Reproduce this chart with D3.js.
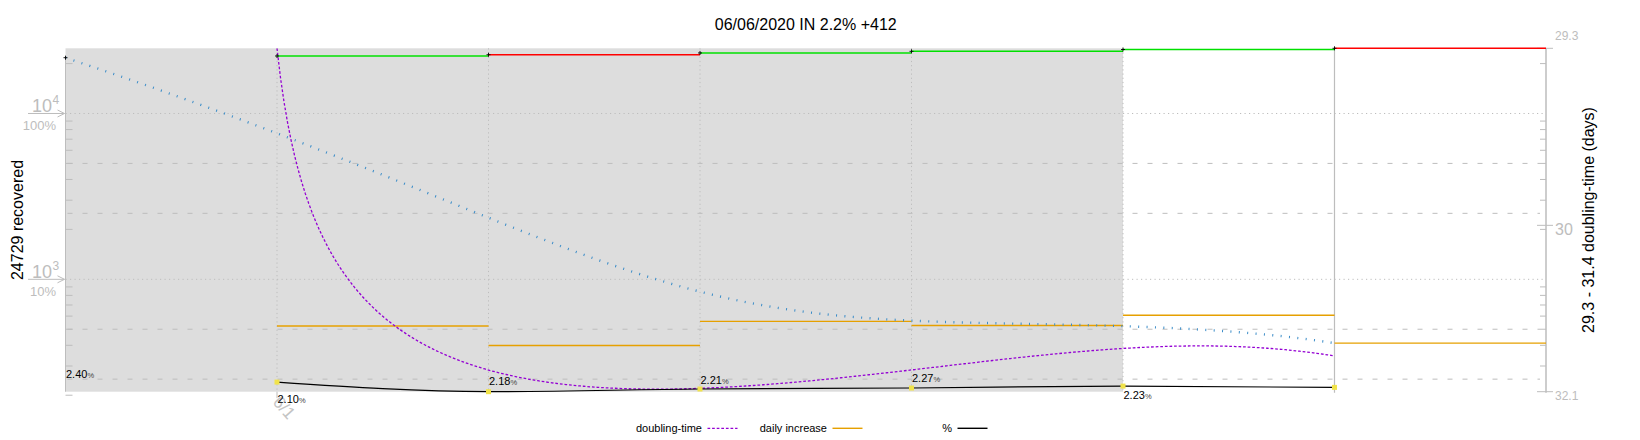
<!DOCTYPE html>
<html>
<head>
<meta charset="utf-8">
<script src="https://cdn.jsdelivr.net/npm/d3@7"></script>
<style>
  body { margin: 0; background: #fff; }
  text { font-family: "Liberation Sans", Arial, Helvetica, sans-serif; }
</style>
</head>
<body>
<div id="chart"></div>
<script>
const dates = ["2020-05-31", "2020-06-01", "2020-06-02", "2020-06-03", "2020-06-04", "2020-06-05", "2020-06-06"];
const xDomain = ["2020-05-31", "2020-06-07"];
const shadeRange = ["2020-05-31", "2020-06-05"];
const recovered = [21703, 22226, 22625, 23183, 23710, 24317, 24729];
const dailyIncrease = [21703, 523, 399, 558, 527, 607, 412];
const pct = [2.40, 2.10, 2.18, 2.21, 2.27, 2.23];
const doublingTime = [29.3, 33.35, 32.14, 31.71, 30.88, 31.43];
const rightTicks = [29.3, 30, 32.1];
const decades = [1000, 10000];
const decadePct = ["10%", "100%"];
const minorTicks = [200, 300, 400, 500, 600, 700, 800, 900, 2000, 3000, 4000, 5000, 6000, 7000, 8000, 9000, 20000];
const dashedGrid = [250, 500, 2500, 5000];
const legendItems = ["doubling-time", "daily increase", "%"];

const width = 1640, height = 440;
const margin = { top: 48.3, right: 94, bottom: 48.3, left: 65.5 };
const x0 = margin.left, x1 = width - margin.right;
const y0 = margin.top, y1 = height - margin.bottom;
const grey = "#bdbdbd";
const DT_BASE = 29;

const parse = d3.utcParse("%Y-%m-%d");
const days = dates.map(parse);

const svg = d3.select("#chart").append("svg")
  .attr("width", width).attr("height", height);

const x = d3.scaleUtc().domain(xDomain.map(parse)).range([x0, x1]);
const y = d3.scaleLog().domain([210, 24729]).range([y1, y0]);
const dtLog = d3.scaleLog()
  .domain([rightTicks[0] - DT_BASE, rightTicks[2] - DT_BASE])
  .range([y0, y1]);
const y2 = t => dtLog(t - DT_BASE);
y2.invert = py => dtLog.invert(py) + DT_BASE;

// smoothing done in value space, like gnuplot "smooth bezier"
const bezier = scale => context => {
  let pts;
  return {
    areaStart() {}, areaEnd() {},
    lineStart() { pts = []; },
    point(px, py) { pts.push([px, scale.invert(py)]); },
    lineEnd() {
      const n = 300;
      for (let k = 0; k <= n; k++) {
        const t = k / n, q = pts.map(p => p.slice());
        for (let r = q.length - 1; r > 0; r--)
          for (let i = 0; i < r; i++) {
            q[i][0] += (q[i + 1][0] - q[i][0]) * t;
            q[i][1] += (q[i + 1][1] - q[i][1]) * t;
          }
        const px = q[0][0], py = scale(q[0][1]);
        k ? context.lineTo(px, py) : context.moveTo(px, py);
      }
    }
  };
};

svg.append("defs").append("clipPath").attr("id", "plot")
  .append("rect").attr("x", x0).attr("y", y0).attr("width", x1 - x0).attr("height", y1 - y0);

// shaded past days
svg.append("rect")
  .attr("x", x(parse(shadeRange[0]))).attr("y", y0)
  .attr("width", x(parse(shadeRange[1])) - x(parse(shadeRange[0])))
  .attr("height", y1 - y0)
  .attr("fill", "#dddddd");

// grid
svg.append("g").selectAll("line").data(decades).join("line")
  .attr("x1", x0).attr("x2", x1).attr("y1", d => y(d)).attr("y2", d => y(d))
  .attr("stroke", grey).attr("stroke-dasharray", "1.2,3.3");
svg.append("g").selectAll("line").data(dashedGrid).join("line")
  .attr("x1", x0 + 2).attr("x2", x1 - 6).attr("y1", d => y(d)).attr("y2", d => y(d))
  .attr("stroke", grey).attr("stroke-dasharray", "5,10");
svg.append("g").selectAll("line").data(days.slice(1, 6)).join("line")
  .attr("x1", d => x(d)).attr("x2", d => x(d)).attr("y1", y0).attr("y2", y1)
  .attr("stroke", grey).attr("stroke-dasharray", "1.2,3");
svg.append("line")
  .attr("x1", x(days[6])).attr("x2", x(days[6])).attr("y1", y0).attr("y2", y1 + 1)
  .attr("stroke", grey).attr("stroke-width", 1.2);

// left axis
const left = svg.append("g");
left.append("line").attr("x1", x0).attr("x2", x0).attr("y1", y(recovered[0])).attr("y2", y1)
  .attr("stroke", grey);
left.selectAll(".minor").data(minorTicks).join("line").attr("class", "minor")
  .attr("x1", x0).attr("x2", x0 + 7).attr("y1", d => y(d)).attr("y2", d => y(d))
  .attr("stroke", grey);
decades.forEach((d, i) => {
  const yy = y(d);
  left.append("path")
    .attr("d", `M28,${yy}H${x0 - 1}M${x0 - 8},${yy - 3.5}L${x0 - 1},${yy}L${x0 - 8},${yy + 3.5}`)
    .attr("fill", "none").attr("stroke", grey);
  left.append("text").attr("x", 52).attr("y", yy - 1.5).attr("text-anchor", "end")
    .attr("font-size", 18).attr("fill", grey).text("10");
  left.append("text").attr("x", 52.5).attr("y", yy - 9.5)
    .attr("font-size", 12).attr("fill", grey).text(Math.log10(d));
  left.append("text").attr("x", 56).attr("y", yy + 17).attr("text-anchor", "end")
    .attr("font-size", 13).attr("fill", grey).text(decadePct[i]);
});
svg.append("text")
  .attr("transform", `translate(22.5,${(y0 + y1) / 2}) rotate(-90)`)
  .attr("text-anchor", "middle").attr("font-size", 16)
  .text(`${recovered[recovered.length - 1]} recovered`);

// right axis
const right = svg.append("g");
right.append("line").attr("x1", x1).attr("x2", x1).attr("y1", y0).attr("y2", y1 + 1)
  .attr("stroke", grey).attr("stroke-width", 1.5);
right.selectAll(".minor").data(minorTicks.filter(d => y(d) <= y1)).join("line").attr("class", "minor")
  .attr("x1", x1 - 6).attr("x2", x1).attr("y1", d => y(d)).attr("y2", d => y(d))
  .attr("stroke", grey);
right.selectAll(".major").data(rightTicks).join("line").attr("class", "major")
  .attr("x1", x1 - 9).attr("x2", x1 + 7).attr("y1", d => y2(d)).attr("y2", d => y2(d))
  .attr("stroke", grey);
right.selectAll("text").data(rightTicks).join("text")
  .attr("x", x1 + 9)
  .attr("y", (d, i) => y2(d) + (i === 0 ? -8.5 : i === 2 ? 8 : 10))
  .attr("font-size", (d, i) => i === 1 ? 16 : 12)
  .attr("fill", grey)
  .text(d => d);
const f1 = d3.format(".1f");
svg.append("text")
  .attr("transform", `translate(1594,${(y0 + y1) / 2}) rotate(-90)`)
  .attr("text-anchor", "middle").attr("font-size", 16)
  .text(`${f1(doublingTime[0])} - ${f1(doublingTime[doublingTime.length - 1])} doubling-time (days)`);

// x axis: month ticks only
const xt = x.ticks(d3.utcMonth.every(1));
svg.append("g").selectAll("line").data(xt).join("line")
  .attr("x1", d => x(d)).attr("x2", d => x(d)).attr("y1", y1).attr("y2", y1 + 6.5)
  .attr("stroke", grey);
svg.append("g").selectAll("text").data(xt).join("text")
  .attr("transform", d => `translate(${x(d) - 5},${y1 + 11}) rotate(48)`)
  .attr("font-size", 17).attr("fill", "#c4c4c4")
  .text(d3.utcFormat("%-m/%-d"));

const plot = svg.append("g").attr("clip-path", "url(#plot)");
const nextDay = i => i + 1 < days.length ? days[i + 1] : parse(xDomain[1]);
const rising = j => j === 0 || pct[j] >= pct[j - 1];

// daily increase steps
plot.append("g").selectAll("line").data(d3.range(1, days.length)).join("line")
  .attr("x1", i => x(days[i])).attr("x2", i => x(nextDay(i)))
  .attr("y1", i => y(dailyIncrease[i])).attr("y2", i => y(dailyIncrease[i]))
  .attr("stroke", "#e6a000").attr("stroke-width", 1.4);

// smoothed daily increase
plot.append("path")
  .datum(days.map((d, i) => ({ d, v: dailyIncrease[i] })))
  .attr("fill", "none").attr("stroke", "#3a8cc8").attr("stroke-width", 2.4)
  .attr("stroke-dasharray", "1,7.4")
  .attr("d", d3.line().x(p => x(p.d)).y(p => y(p.v)).curve(bezier(y)));

// doubling time
plot.append("path")
  .datum(days.slice(1).map((d, i) => ({ d, v: doublingTime[i] })))
  .attr("fill", "none").attr("stroke", "#9400d3").attr("stroke-width", 1.3)
  .attr("stroke-dasharray", "2.7,1.9")
  .attr("d", d3.line().x(p => x(p.d)).y(p => y2(p.v)).curve(bezier(y2)));

// percentage line
const pctPts = days.slice(1).map((d, i) => ({ d, v: pct[i] * 100 }));
svg.append("path").datum(pctPts)
  .attr("fill", "none").attr("stroke", "#000").attr("stroke-width", 1.2)
  .attr("d", d3.line().x(p => x(p.d)).y(p => y(p.v)).curve(d3.curveMonotoneX));
svg.append("g").selectAll("rect").data(pctPts).join("rect")
  .attr("x", p => x(p.d) - 2.5).attr("y", p => y(p.v) - 2.5)
  .attr("width", 5).attr("height", 5).attr("fill", "#f1e34a");
const lbl = svg.append("g").selectAll("text").data(pct).join("text")
  .attr("x", (v, j) => x(days[j]) + 0.5)
  .attr("y", (v, j) => y(v * 100) + (rising(j) ? -4.5 : 11.5))
  .attr("font-size", 11);
lbl.append("tspan").text(v => v.toFixed(2));
lbl.append("tspan").attr("font-size", 7.5).attr("fill", "#444").text("%");

// cumulative steps
svg.append("g").selectAll("line").data(d3.range(1, days.length)).join("line")
  .attr("x1", i => x(days[i])).attr("x2", i => x(nextDay(i)))
  .attr("y1", i => y(recovered[i])).attr("y2", i => y(recovered[i]))
  .attr("stroke", i => rising(i - 1) ? "#00e000" : "#ff0000").attr("stroke-width", 1.5);
svg.append("g").selectAll("path").data(days).join("path")
  .attr("d", (d, i) => {
    const cx = x(d), cy = y(recovered[i]);
    return `M${cx - 2},${cy}H${cx + 2}M${cx},${cy - 2}V${cy + 2}`;
  })
  .attr("stroke", "#000").attr("stroke-width", 0.9);

// title
const last = days.length - 1;
svg.append("text")
  .attr("x", (x0 + x1) / 2).attr("y", 29.5).attr("text-anchor", "middle").attr("font-size", 16)
  .text(`${d3.utcFormat("%m/%d/%Y")(days[last])} IN ${f1(pct[pct.length - 1])}% +${dailyIncrease[last]}`);

// legend
const legendStyles = [
  { stroke: "#9400d3", dash: "2.7,1.9" },
  { stroke: "#e6a000", dash: null },
  { stroke: "#000", dash: null }
];
const legend = svg.append("g").selectAll("g").data(legendItems).join("g")
  .attr("transform", (d, i) => `translate(${702 + i * 125},428.3)`);
legend.append("text").attr("x", 0).attr("y", 4).attr("text-anchor", "end")
  .attr("font-size", 11).text(d => d);
legend.append("line").attr("x1", 5.5).attr("x2", 35.5).attr("y1", 0).attr("y2", 0)
  .attr("stroke", (d, i) => legendStyles[i].stroke)
  .attr("stroke-width", (d, i) => i === 0 ? 1.3 : 1.4)
  .attr("stroke-dasharray", (d, i) => legendStyles[i].dash);
</script>
</body>
</html>
